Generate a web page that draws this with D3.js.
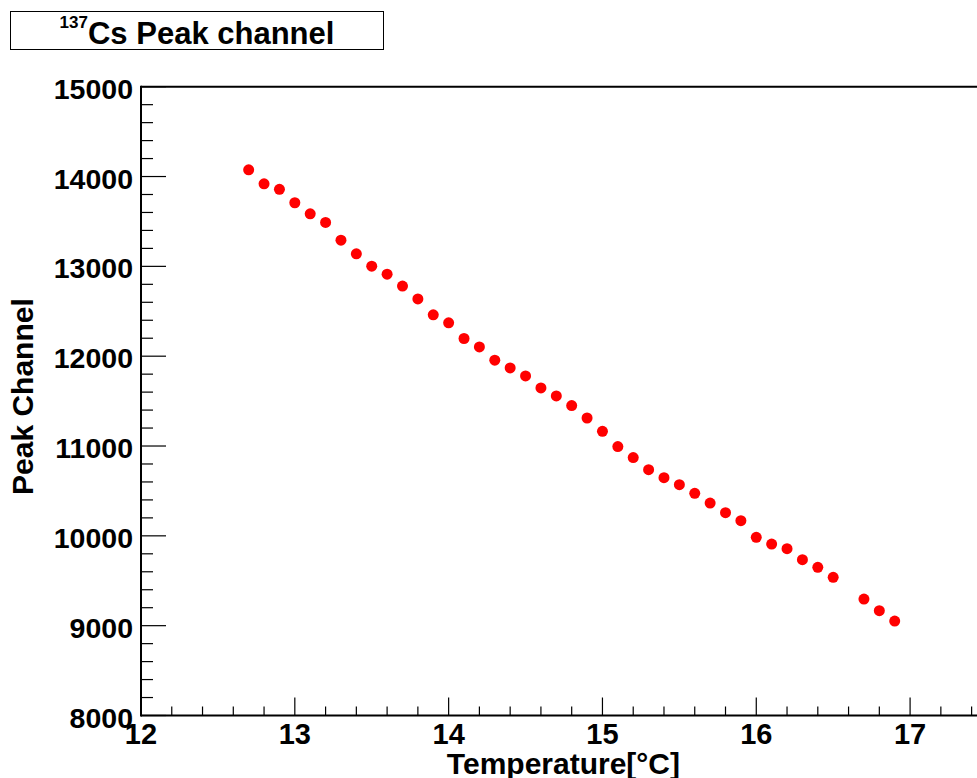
<!DOCTYPE html>
<meta charset="utf-8">
<title>137Cs Peak channel</title>
<style>
body { margin: 0; background: #fff; }
text { font-family: "Liberation Sans", Arial, sans-serif; font-weight: bold; fill: #000; }
</style>
<body>
<script src="https://d3js.org/d3.v7.min.js"></script>
<script>

var width = 977,
    height = 778;

// temperature readings (deg C) and fitted peak channel
var temps = [12.7, 12.8, 12.9, 13.0, 13.1, 13.2, 13.3, 13.4, 13.5, 13.6, 13.7, 13.8, 13.9,
             14.0, 14.1, 14.2, 14.3, 14.4, 14.5, 14.6, 14.7, 14.8, 14.9,
             15.0, 15.1, 15.2, 15.3, 15.4, 15.5, 15.6, 15.7, 15.8, 15.9,
             16.0, 16.1, 16.2, 16.3, 16.4, 16.5, 16.7, 16.8, 16.9];
var peaks = [14075, 13919, 13857, 13708, 13585, 13489, 13292, 13140, 13002, 12913, 12780, 12638, 12460,
             12371, 12197, 12103, 11955, 11869, 11780, 11647, 11557, 11450, 11312,
             11164, 10994, 10871, 10737, 10648, 10570, 10473, 10365, 10258, 10169,
             9983, 9909, 9857, 9735, 9649, 9538, 9296, 9167, 9051];

var xMajor = [12, 13, 14, 15, 16, 17];
var yMajor = [8000, 9000, 10000, 11000, 12000, 13000, 14000, 15000];

var svg = d3.select("body").append("svg")
    .attr("width", width)
    .attr("height", height);

var x = d3.scaleLinear().domain([12, 17.5]).range([141, 987]);
var y = d3.scaleLinear().domain([8000, 15000]).range([715.5, 86.7]);

// minor ticks every 0.2 / 200
var xMinor = d3.range(12, 17.5, 0.2).map(function(d){ return +d.toFixed(1); })
    .filter(function(d){ return xMajor.indexOf(d) == -1; });
var yMinor = d3.range(8000, 15000, 200).filter(function(d){ return d % 1000 != 0; });

// frame top line
svg.append("line")
    .attr("x1", x(12)).attr("x2", width)
    .attr("y1", y(15000)).attr("y2", y(15000))
    .attr("stroke", "#000").attr("stroke-width", 2);

// x axis
var gx = svg.append("g").attr("transform", "translate(0," + y(8000) + ")");
gx.append("line").attr("x1", x(12)).attr("x2", width)
    .attr("stroke", "#000").attr("stroke-width", 2);
gx.selectAll(".xmaj").data(xMajor).enter().append("line")
    .attr("x1", function(d){ return x(d); }).attr("x2", function(d){ return x(d); })
    .attr("y1", 0).attr("y2", -18)
    .attr("stroke", "#000").attr("stroke-width", 1.2);
gx.selectAll(".xmin").data(xMinor).enter().append("line")
    .attr("x1", function(d){ return x(d); }).attr("x2", function(d){ return x(d); })
    .attr("y1", 0).attr("y2", -9)
    .attr("stroke", "#000").attr("stroke-width", 1.2);
gx.selectAll(".xlab").data(xMajor).enter().append("text")
    .attr("x", function(d){ return x(d); })
    .attr("y", 28)
    .attr("text-anchor", "middle")
    .style("font-size", "29px")
    .text(function(d){ return d; });

// y axis
var gy = svg.append("g").attr("transform", "translate(" + x(12) + ",0)");
gy.append("line").attr("y1", y(8000) + 1).attr("y2", y(15000) - 1)
    .attr("stroke", "#000").attr("stroke-width", 2);
gy.selectAll(".ymaj").data(yMajor).enter().append("line")
    .attr("y1", function(d){ return y(d); }).attr("y2", function(d){ return y(d); })
    .attr("x1", 0).attr("x2", 25)
    .attr("stroke", "#000").attr("stroke-width", 1.2);
gy.selectAll(".ymin").data(yMinor).enter().append("line")
    .attr("y1", function(d){ return y(d); }).attr("y2", function(d){ return y(d); })
    .attr("x1", 0).attr("x2", 12)
    .attr("stroke", "#000").attr("stroke-width", 1.2);
gy.selectAll(".ylab").data(yMajor).enter().append("text")
    .attr("x", -8)
    .attr("y", function(d){ return y(d) + 12; })
    .attr("text-anchor", "end")
    .style("font-size", "28.5px")
    .text(function(d){ return d; });

// axis titles
svg.append("text")
    .attr("x", 680).attr("y", 774)
    .attr("text-anchor", "end")
    .style("font-size", "30px")
    .text("Temperature[\u00B0C]");

svg.append("text")
    .attr("transform", "translate(33,495) rotate(-90)")
    .attr("text-anchor", "start")
    .style("font-size", "30px")
    .text("Peak Channel");

// title box
svg.append("rect")
    .attr("x", 10.5).attr("y", 11.5)
    .attr("width", 373).attr("height", 38)
    .attr("fill", "#fff").attr("stroke", "#000").attr("stroke-width", 1);
var title = svg.append("text")
    .attr("x", 197).attr("y", 43.5)
    .attr("text-anchor", "middle")
    .style("font-size", "31px");
title.append("tspan").attr("dy", -16).style("font-size", "17px").text("137");
title.append("tspan").attr("dy", 16).text("Cs Peak channel");

// data points
svg.selectAll(".pt").data(temps).enter().append("circle")
    .attr("class", "pt")
    .attr("cx", function(d){ return x(d); })
    .attr("cy", function(d, i){ return y(peaks[i]); })
    .attr("r", 5.5)
    .attr("fill", "#ff0000");

</script>
